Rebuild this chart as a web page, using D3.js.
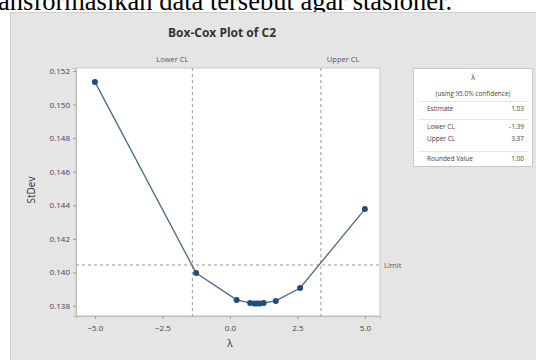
<!DOCTYPE html>
<html><head><meta charset="utf-8">
<script src="https://cdn.jsdelivr.net/npm/d3@7"></script>
<style>body{margin:0;background:#fff;}svg{display:block;}</style>
</head><body>
<svg id="c" width="536" height="360"></svg>
<script>
const lambdas = [-5, -1.25, 0.25, 0.75, 0.9, 1.0, 1.1, 1.25, 1.7, 2.6, 5];
const stdevs = [0.15135, 0.13996, 0.13836, 0.13818, 0.13815, 0.13814, 0.13815, 0.13818, 0.13830, 0.13907, 0.14377];
const xTicks = [-5, -2.5, 0, 2.5, 5];
const yTicks = [0.138, 0.140, 0.142, 0.144, 0.146, 0.148, 0.150, 0.152];
const lowerCL = -1.39, upperCL = 3.37, limit = 0.14044;
const tableRows = [["Estimate","1.03"],["Lower CL","-1.39"],["Upper CL","3.37"],["Rounded Value","1.00"]];

const svg = d3.select("#c");
const font = "'Open Sans', 'DejaVu Sans', sans-serif";
// document text line
svg.append("text").attr("x",-2).attr("y",10).attr("font-family","'Liberation Serif', serif")
  .attr("font-size",26.5).attr("fill","#000").text("ansformasikan data tersebut agar stasioner.");
// panel
svg.append("rect").attr("x",10.5).attr("y",12.5).attr("width",530).attr("height",352)
  .attr("fill","#e5e5e5").attr("stroke","#cfcfcf");

const L=76,R=380,T=68,B=316;
const x = d3.scaleLinear().domain([-5.70,5.56]).range([L,R]);
const y = d3.scaleLinear().domain([0.13740,0.15218]).range([B,T]);

svg.append("rect").attr("x",L).attr("y",T).attr("width",R-L).attr("height",B-T).attr("fill","#fff").attr("stroke","#c8c8c8");

svg.append("text").attr("x",222).attr("y",37).attr("text-anchor","middle").attr("font-family",font)
  .attr("font-size",12).attr("font-weight","bold").attr("fill","#333").text("Box-Cox Plot of C2");

const xa = svg.append("g").attr("transform",`translate(0,${B})`)
  .call(d3.axisBottom(x).tickValues(xTicks).tickFormat(d3.format(".1f")).tickSize(3));
const ya = svg.append("g").attr("transform",`translate(${L},0)`)
  .call(d3.axisLeft(y).tickValues(yTicks).tickFormat(d3.format(".3f")).tickSize(3));
[xa,ya].forEach(a=>{a.select(".domain").attr("stroke","#bbb");a.selectAll("line").attr("stroke","#999");
  a.selectAll("text").attr("font-family",font).attr("font-size",8).attr("fill","#444");});
xa.selectAll("text").attr("dy","1.1em");

// CL lines
[lowerCL,upperCL].forEach(v=>{
  svg.append("line").attr("x1",x(v)).attr("x2",x(v)).attr("y1",T).attr("y2",B)
    .attr("stroke","#999").attr("stroke-dasharray","3,3");
});
svg.append("text").attr("x",x(lowerCL)-4).attr("y",62).attr("text-anchor","end").attr("font-family",font)
  .attr("font-size",7.5).attr("fill","#555").text("Lower CL");
svg.append("text").attr("x",x(upperCL)+6).attr("y",62).attr("text-anchor","start").attr("font-family",font)
  .attr("font-size",7.5).attr("fill","#555").text("Upper CL");
svg.append("line").attr("x1",L).attr("x2",R).attr("y1",y(limit)).attr("y2",y(limit))
  .attr("stroke","#999").attr("stroke-dasharray","3,3");
svg.append("text").attr("x",R+4).attr("y",y(limit)+3).attr("font-family",font)
  .attr("font-size",7.5).attr("fill","#555").text("Limit");

const pts = lambdas.map((l,i)=>[l,stdevs[i]]);
svg.append("path").datum(pts).attr("fill","none").attr("stroke","#4a6a86").attr("stroke-width",1.3)
  .attr("d",d3.line().x(d=>x(d[0])).y(d=>y(d[1])));
svg.selectAll("circle.p").data(pts).join("circle").attr("cx",d=>x(d[0])).attr("cy",d=>y(d[1]))
  .attr("r",3).attr("fill","#1f4e7a");

svg.append("text").attr("x",x(0)).attr("y",347).attr("text-anchor","middle").attr("font-family",font)
  .attr("font-size",10).attr("fill","#333").text("λ");
svg.append("text").attr("transform","translate(35,190) rotate(-90)").attr("text-anchor","middle")
  .attr("font-family",font).attr("font-size",10).attr("fill","#333").text("StDev");

// table
const tb = svg.append("g");
tb.append("rect").attr("x",413.5).attr("y",68.5).attr("width",119).attr("height",98).attr("fill","#fff").attr("stroke","#c8c8c8");
tb.append("text").attr("x",473).attr("y",80).attr("text-anchor","middle").attr("font-family",font).attr("font-size",7).attr("fill","#444").text("λ");
tb.append("text").attr("x",473).attr("y",96).attr("text-anchor","middle").attr("font-family",font).attr("font-size",6.5).attr("fill","#444").text("(using 95.0% confidence)");
const rowY=[111,129,141,161];
tableRows.forEach((r,i)=>{
  tb.append("text").attr("x",427).attr("y",rowY[i]).attr("font-family",font).attr("font-size",6.5).attr("fill","#444").text(r[0]);
  tb.append("text").attr("x",524).attr("y",rowY[i]).attr("text-anchor","end").attr("font-family",font).attr("font-size",6.5).attr("fill","#444").text(r[1]);
});
[101,119,151].forEach(yy=>tb.append("line").attr("x1",418).attr("x2",528).attr("y1",yy+0.5).attr("y2",yy+0.5).attr("stroke","#e6e6e6"));
</script>
</body></html>
